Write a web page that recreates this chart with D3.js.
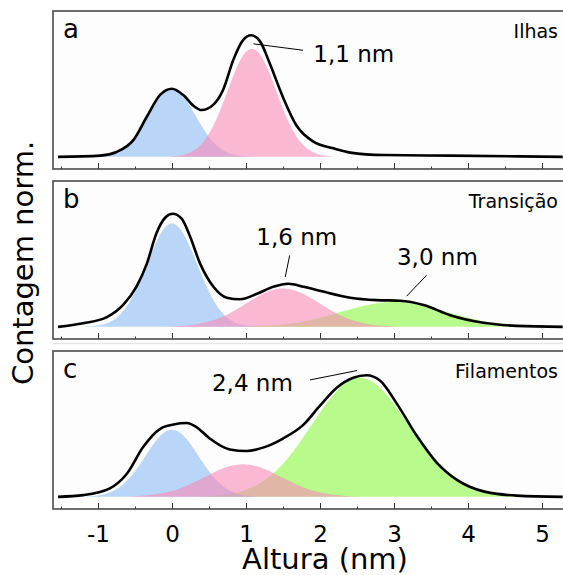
<!DOCTYPE html>
<html>
<head>
<meta charset="utf-8">
<script src="https://cdn.jsdelivr.net/npm/d3@7"></script>
<style>
  body { margin: 0; background: #fff; }
  svg { display: block; }
  text { font-family: 'DejaVu Sans', Verdana, sans-serif; fill: #000; }
</style>
</head>
<body>
<svg id="chart"></svg>
<script>
// ---- data ----
var xTicks = [-1, 0, 1, 2, 3, 4, 5];
var xMinor = [-1.5, -0.5, 0.5, 1.5, 2.5, 3.5, 4.5];
var panelLetters = ['a', 'b', 'c'];
var panelNames = ['Ilhas', 'Transição', 'Filamentos'];
var peakLabels = [['1,1 nm'], ['1,6 nm', '3,0 nm'], ['2,4 nm']];

// measured histograms (altura nm, contagem norm.)
var medidaA = [[-1.54, 0], [-0.97, 0.01], [-0.75, 0.04], [-0.52, 0.14], [-0.34, 0.33], [-0.16, 0.51],
    [0.0, 0.56], [0.15, 0.51], [0.29, 0.42], [0.40, 0.385], [0.56, 0.43], [0.69, 0.55], [0.83, 0.80],
    [0.96, 0.96], [1.07, 1.0], [1.19, 0.95], [1.32, 0.77], [1.50, 0.49], [1.68, 0.26], [1.91, 0.125],
    [2.18, 0.07], [2.41, 0.035], [2.86, 0.015], [3.76, 0.01], [5.28, 0]];
var medidaB = [[-1.54, 0], [-1.2, 0.03], [-0.88, 0.08], [-0.66, 0.18], [-0.48, 0.33], [-0.34, 0.52],
    [-0.21, 0.77], [-0.09, 0.90], [0.01, 0.93], [0.13, 0.89], [0.24, 0.75], [0.38, 0.52], [0.56, 0.33],
    [0.74, 0.24], [0.92, 0.227], [1.14, 0.27], [1.37, 0.33], [1.57, 0.355], [1.78, 0.33], [2.04, 0.29],
    [2.41, 0.24], [2.77, 0.22], [3.08, 0.215], [3.40, 0.18], [3.76, 0.096], [4.21, 0.033], [4.66, 0.008],
    [5.28, 0]];
var medidaC = [[-1.54, 0], [-1.2, 0.014], [-0.84, 0.07], [-0.61, 0.19], [-0.39, 0.41], [-0.16, 0.56],
    [0.02, 0.595], [0.20, 0.607], [0.33, 0.574], [0.51, 0.48], [0.78, 0.39], [1.01, 0.377], [1.23, 0.405],
    [1.50, 0.48], [1.77, 0.59], [2.0, 0.75], [2.23, 0.90], [2.45, 0.98], [2.63, 1.0], [2.81, 0.957],
    [3.04, 0.765], [3.31, 0.50], [3.58, 0.28], [3.85, 0.14], [4.21, 0.045], [4.66, 0.01], [5.28, 0]];

// fitted peaks
var ajusteA_azul = [[-1.1, 0], [-1.0, 0.004], [-0.9, 0.011], [-0.8, 0.024], [-0.7, 0.051], [-0.6, 0.096],
    [-0.5, 0.164], [-0.4, 0.254], [-0.3, 0.358], [-0.2, 0.457], [-0.1, 0.528], [0, 0.555], [0.1, 0.528],
    [0.2, 0.457], [0.3, 0.358], [0.4, 0.254], [0.5, 0.164], [0.6, 0.096], [0.7, 0.051], [0.8, 0.024],
    [0.9, 0.011], [1.0, 0.004], [1.1, 0]];
var ajusteA_rosa = [[-0.02, 0], [0.08, 0.009], [0.18, 0.022], [0.28, 0.047], [0.38, 0.094], [0.48, 0.170],
    [0.58, 0.282], [0.68, 0.427], [0.78, 0.589], [0.88, 0.741], [0.98, 0.850], [1.08, 0.89], [1.18, 0.850],
    [1.28, 0.741], [1.38, 0.589], [1.48, 0.427], [1.58, 0.282], [1.68, 0.170], [1.78, 0.094], [1.88, 0.047],
    [1.98, 0.022], [2.08, 0.009], [2.18, 0]];
var ajusteB_azul = [[-1.2, 0], [-1.1, 0.005], [-1.0, 0.011], [-0.9, 0.026], [-0.8, 0.053], [-0.7, 0.102],
    [-0.6, 0.179], [-0.5, 0.288], [-0.4, 0.426], [-0.3, 0.576], [-0.2, 0.715], [-0.1, 0.814], [0, 0.85],
    [0.1, 0.814], [0.2, 0.715], [0.3, 0.576], [0.4, 0.426], [0.5, 0.288], [0.6, 0.179], [0.7, 0.102],
    [0.8, 0.053], [0.9, 0.026], [1.0, 0.011], [1.1, 0.005], [1.2, 0]];
var ajusteB_rosa = [[-0.1, 0], [0.1, 0.006], [0.3, 0.018], [0.5, 0.043], [0.7, 0.088], [0.9, 0.153],
    [1.1, 0.229], [1.3, 0.291], [1.5, 0.315], [1.7, 0.291], [1.9, 0.229], [2.1, 0.153], [2.3, 0.088],
    [2.5, 0.043], [2.7, 0.018], [2.9, 0.006], [3.1, 0]];
var ajusteB_verde = [[0.8, 0], [1.0, 0.003], [1.2, 0.008], [1.4, 0.015], [1.6, 0.028], [1.8, 0.047],
    [2.0, 0.074], [2.2, 0.107], [2.4, 0.142], [2.6, 0.174], [2.8, 0.197], [3.0, 0.205], [3.2, 0.197],
    [3.4, 0.174], [3.6, 0.142], [3.8, 0.107], [4.0, 0.074], [4.2, 0.047], [4.4, 0.028], [4.6, 0.015],
    [4.8, 0.008], [5.0, 0.003], [5.2, 0]];
var ajusteC_azul = [[-1.2, 0], [-1.1, 0.005], [-1.0, 0.012], [-0.9, 0.024], [-0.8, 0.047], [-0.7, 0.083],
    [-0.6, 0.138], [-0.5, 0.210], [-0.4, 0.298], [-0.3, 0.390], [-0.2, 0.473], [-0.1, 0.531], [0, 0.552],
    [0.1, 0.531], [0.2, 0.473], [0.3, 0.390], [0.4, 0.298], [0.5, 0.210], [0.6, 0.138], [0.7, 0.083],
    [0.8, 0.047], [0.9, 0.024], [1.0, 0.012], [1.1, 0.005], [1.2, 0]];
var ajusteC_rosa = [[-0.64, 0], [-0.44, 0.007], [-0.24, 0.019], [-0.04, 0.042], [0.16, 0.082], [0.36, 0.138],
    [0.56, 0.199], [0.76, 0.249], [0.96, 0.268], [1.16, 0.249], [1.36, 0.199], [1.56, 0.138], [1.76, 0.082],
    [1.96, 0.042], [2.16, 0.019], [2.36, 0.007], [2.56, 0]];
var ajusteC_verde = [[0.34, 0], [0.54, 0.009], [0.74, 0.021], [0.94, 0.047], [1.14, 0.096], [1.34, 0.178],
    [1.54, 0.300], [1.74, 0.460], [1.94, 0.640], [2.14, 0.811], [2.34, 0.935], [2.54, 0.98], [2.74, 0.935],
    [2.94, 0.811], [3.14, 0.640], [3.34, 0.460], [3.54, 0.300], [3.74, 0.178], [3.94, 0.096], [4.14, 0.047],
    [4.34, 0.021], [4.54, 0.009], [4.74, 0]];

// ---- layout ----
var W = 563, H = 575;
var left = 53, panelH = 158;
var panelTop = [11, 181, 351];
var colors = {verde: '#8bfa41', azul: '#8cbbf5', rosa: '#fa8bb8'};

var svg = d3.select('#chart').attr('width', W).attr('height', H);

var x = d3.scaleLinear().domain([-1, 5]).range([98, 542]);

var panels = [
    {data: medidaA, comps: [[ajusteA_azul, 'azul'], [ajusteA_rosa, 'rosa']],
        notes: [{tx: 1.91, ty: 0.78, line: [1.10, 0.93, 1.77, 0.877]}]},
    {data: medidaB, comps: [[ajusteB_verde, 'verde'], [ajusteB_azul, 'azul'], [ajusteB_rosa, 'rosa']],
        notes: [{tx: 1.14, ty: 0.67, line: [1.59, 0.588, 1.53, 0.41]},
                {tx: 3.04, ty: 0.506, line: [3.44, 0.424, 3.17, 0.252]}]},
    {data: medidaC, comps: [[ajusteC_verde, 'verde'], [ajusteC_azul, 'azul'], [ajusteC_rosa, 'rosa']],
        notes: [{tx: 0.54, ty: 0.869, line: [1.865, 0.962, 2.50, 1.039]}]}
];

// faint separator line seen below panel b
svg.append('line')
    .attr('x1', left).attr('x2', W)
    .attr('y1', 343.5).attr('y2', 343.5)
    .attr('stroke', '#e6e6e6').attr('stroke-width', 1.5);

panels.forEach(function(p, i) {
    var top = panelTop[i];
    var y = d3.scaleLinear().domain([-0.1, 1.2]).range([top + panelH, top]);
    var g = svg.append('g');

    g.append('clipPath').attr('id', 'clip' + i)
        .append('rect').attr('x', left).attr('y', top).attr('width', W - left).attr('height', panelH);

    // panel background
    g.append('rect')
        .attr('x', left).attr('y', top)
        .attr('width', W - left + 10).attr('height', panelH)
        .attr('fill', '#fdfdfd');

    var plot = g.append('g').attr('clip-path', 'url(#clip' + i + ')');

    var area = d3.area()
        .x(function(d) { return x(d[0]); })
        .y0(y(0))
        .y1(function(d) { return y(d[1]); })
        .curve(d3.curveMonotoneX);
    var line = d3.line()
        .x(function(d) { return x(d[0]); })
        .y(function(d) { return y(d[1]); })
        .curve(d3.curveMonotoneX);

    p.comps.forEach(function(c) {
        plot.append('path')
            .attr('d', area(c[0]))
            .attr('fill', colors[c[1]])
            .attr('fill-opacity', 0.6);
    });

    plot.append('path')
        .attr('d', line(p.data))
        .attr('fill', 'none')
        .attr('stroke', '#000')
        .attr('stroke-width', 2.6)
        .attr('stroke-linejoin', 'round');

    // ticks (pointing inward)
    var last = (i == panels.length - 1);
    var axis = d3.axisBottom(x)
        .tickValues(xTicks)
        .tickSize(-6)
        .tickPadding(17)
        .tickFormat(last ? function(d) { return String(d); } : function() { return ''; });
    var gx = g.append('g')
        .attr('transform', 'translate(0,' + (top + panelH) + ')')
        .call(axis);
    gx.select('.domain').remove();
    gx.selectAll('line').attr('stroke', '#333');
    gx.selectAll('text')
        .attr('font-size', 23)
        .attr('font-family', "'DejaVu Sans', Verdana, sans-serif")
        .attr('fill', '#000');

    var gm = g.append('g')
        .attr('transform', 'translate(0,' + (top + panelH) + ')')
        .call(d3.axisBottom(x).tickValues(xMinor).tickSize(-2.5).tickFormat(''));
    gm.select('.domain').remove();
    gm.selectAll('line').attr('stroke', '#333');

    // frame (right side runs off the image)
    g.append('rect')
        .attr('x', left).attr('y', top)
        .attr('width', W - left + 10).attr('height', panelH)
        .attr('fill', 'none')
        .attr('stroke', '#4a4a4a')
        .attr('stroke-width', 1.6);

    // letter and name
    g.append('text')
        .attr('x', 63).attr('y', top + 27)
        .attr('font-size', 26)
        .text(panelLetters[i]);
    g.append('text')
        .attr('x', 558).attr('y', top + 26.5)
        .attr('text-anchor', 'end')
        .attr('font-size', 19)
        .text(panelNames[i]);

    // peak annotations
    p.notes.forEach(function(n, k) {
        g.append('line')
            .attr('x1', x(n.line[0])).attr('y1', y(n.line[1]))
            .attr('x2', x(n.line[2])).attr('y2', y(n.line[3]))
            .attr('stroke', '#000')
            .attr('stroke-width', 1);
        g.append('text')
            .attr('x', x(n.tx)).attr('y', y(n.ty))
            .attr('font-size', 23)
            .text(peakLabels[i][k]);
    });
});

// axis titles
svg.append('text')
    .attr('x', 325).attr('y', 569)
    .attr('text-anchor', 'middle')
    .attr('font-size', 29)
    .text('Altura (nm)');

svg.append('text')
    .attr('transform', 'translate(33,263) rotate(-90)')
    .attr('text-anchor', 'middle')
    .attr('font-size', 29)
    .text('Contagem norm.');
</script>
</body>
</html>
